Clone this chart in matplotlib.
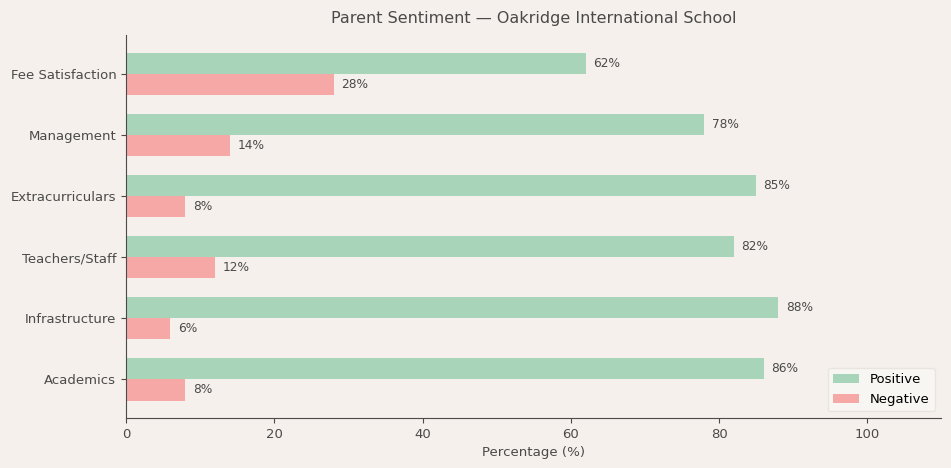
import matplotlib.pyplot as plt
import numpy as np

categories = ['Academics', 'Infrastructure', 'Teachers/Staff', 'Extracurriculars', 'Management', 'Fee Satisfaction']
positive = [86, 88, 82, 85, 78, 62]
negative = [8, 6, 12, 8, 14, 28]

bg = '#F5F0EB'
txt = '#4A4A4A'
green = '#A8D5BA'
red = '#F6A8A6'

fig, ax = plt.subplots(figsize=(9.51, 4.68), dpi=100)
fig.patch.set_facecolor(bg)
ax.set_facecolor(bg)

y = np.arange(len(categories))
h = 0.35
b1 = ax.barh(y + h / 2, positive, h, color=green, label='Positive')
b2 = ax.barh(y - h / 2, negative, h, color=red, label='Negative')

for bars in (b1, b2):
    for bar in bars:
        w = bar.get_width()
        ax.text(w + 1, bar.get_y() + bar.get_height() / 2, f'{w:.0f}%',
                va='center', ha='left', fontsize=8.7, color=txt)

ax.set_yticks(y)
ax.set_yticklabels(categories)
ax.set_xlim(0, 110)
ax.set_xlabel('Percentage (%)', color=txt, fontsize=9.6)
ax.set_title('Parent Sentiment — Oakridge International School', color=txt, fontsize=11.5, pad=9)
ax.tick_params(colors=txt, labelsize=9.5)
for s in ('top', 'right'):
    ax.spines[s].set_visible(False)
for s in ('left', 'bottom'):
    ax.spines[s].set_color(txt)

leg = ax.legend(loc='lower right', fontsize=9.5, facecolor='#FAF8F5', edgecolor='#E6E1DC')

plt.subplots_adjust(left=0.1325, right=0.99, top=0.925, bottom=0.107)
plt.savefig('out.png', facecolor=fig.get_facecolor(), dpi=100)
